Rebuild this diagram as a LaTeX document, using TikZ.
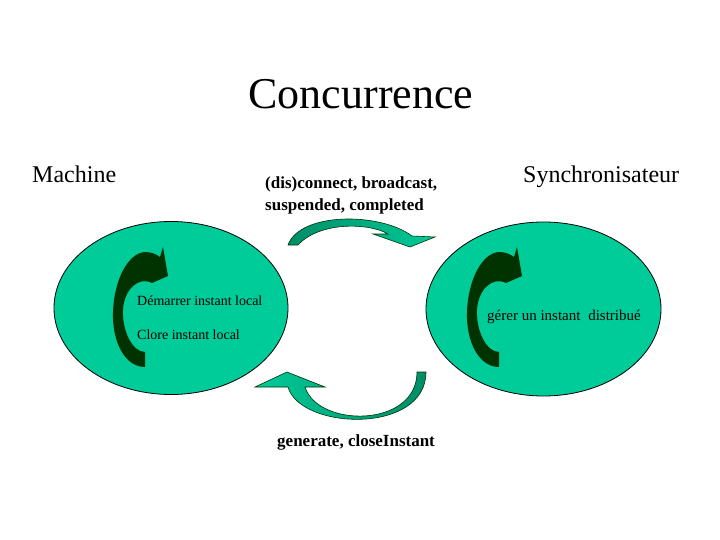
\documentclass[tikz,border=0pt]{standalone}
\usepackage{fontspec}
\setmainfont{Liberation Serif}
\usetikzlibrary{shapes.geometric}
\definecolor{tealA}{HTML}{00CC99}
\definecolor{tealB}{RGB}{0,140,105}
\definecolor{dgreen}{HTML}{003300}
\begin{document}
\begin{tikzpicture}[x=1pt,y=-1pt,
  blob/.style={ellipse, draw=black, line width=0.8pt, fill=tealA, inner sep=0pt, outer sep=0pt},
  lbl/.style={anchor=base west, inner sep=0pt, text=black},
  msgfont/.style={font=\fontsize{17}{20}\selectfont\bfseries},
  headfont/.style={font=\fontsize{24}{28}\selectfont},
  smallfont/.style={font=\fontsize{14}{16}\selectfont},
  tealarrow/.style={draw=black!80!green, line width=0.6pt},
  darrow/.pic={
    \fill[dgreen] (145,367) .. controls (125,367) and (112,342) .. (113,312)
      .. controls (114,280) and (128,253) .. (145,252)
      .. controls (151,252) and (156,254) .. (160,257)
      -- (163,247) -- (168,276) -- (152,283)
      .. controls (138,276) and (124,290) .. (123,310)
      .. controls (122,330) and (132,352) .. (145,352) -- cycle;
  }]
\useasboundingbox[fill=white] (0,0) rectangle (720,540);

% title
\node[anchor=base, inner sep=0pt, font=\fontsize{44}{50}\selectfont] (title) at (361,109) {Concurrence};

% headings
\node[lbl, headfont] (machine) at (32,183) {Machine};
\node[lbl, headfont] (sync) at (523,183) {Synchronisateur};

% ellipses
\node[blob, minimum width=234pt, minimum height=173pt] (left) at (171,308) {};
\node[blob, minimum width=235pt, minimum height=174pt] (right) at (543.5,309) {};

% dark circular arrows
\pic at (0,0) {darrow};
\pic at (354,0) {darrow};

% inner texts
\node[lbl, smallfont] (start) at (137,305) {Démarrer instant local};
\node[lbl, smallfont] (close) at (137,339) {Clore instant local};
\node[lbl, font=\fontsize{15}{17}\selectfont] (manage) at (487,320) {gérer un instant\hspace{4pt} distribué};

% top teal arrow (left to right)
\path[tealarrow, left color=tealB, right color=tealA]
  (288,245) .. controls (300,212) and (380,212) .. (412,236)
  -- (435,237) -- (410,247) -- (373,234) -- (388,234)
  .. controls (370,223) and (320,221) .. (298,245) -- cycle;

% bottom teal arrow (right to left)
\path[tealarrow, left color=tealA, right color=tealB]
  (417,372) -- (426,372) .. controls (426,435) and (300,430) .. (288,387)
  -- (255,387) -- (287,372) -- (325,387) -- (305,387)
  .. controls (318,428) and (417,428) .. (417,372) -- cycle;

% message labels
\node[lbl, msgfont] (msg1) at (265,189) {(dis)connect, broadcast,};
\node[lbl, msgfont] (msg2) at (265,211) {suspended, completed};
\node[lbl, msgfont] (msg3) at (277,446) {generate, closeInstant};
\end{tikzpicture}
\end{document}
